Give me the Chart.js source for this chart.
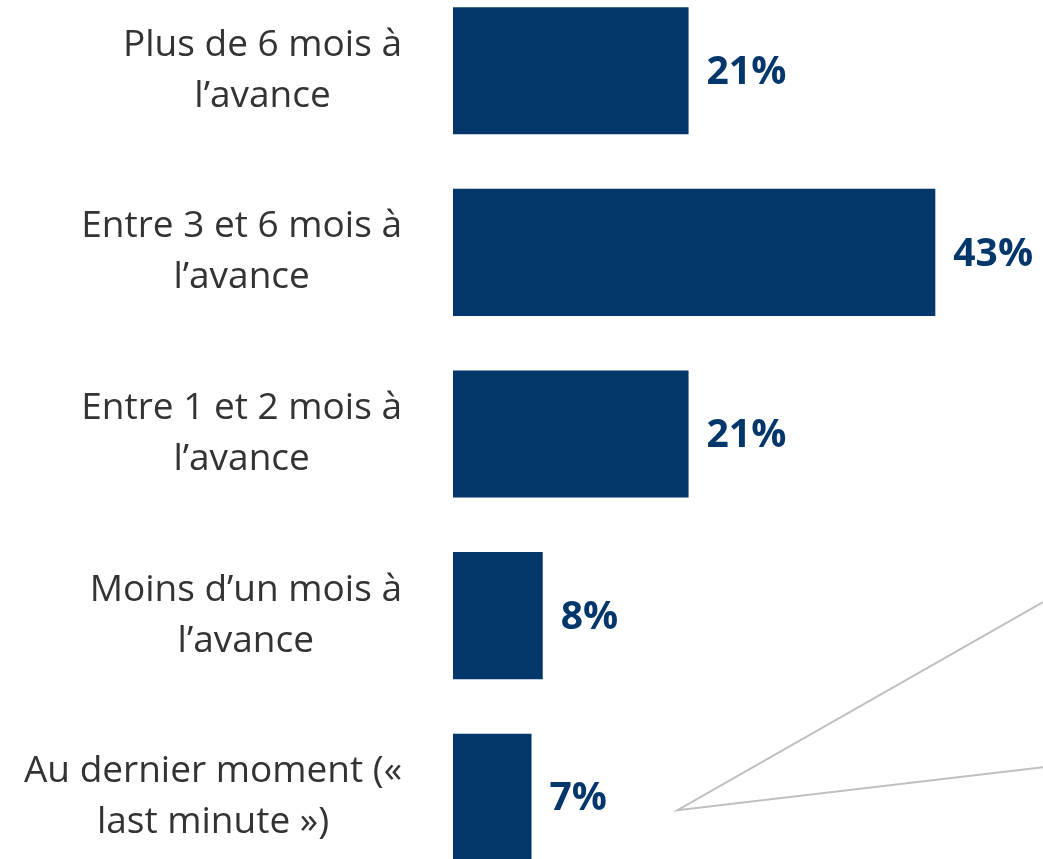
<!DOCTYPE html>
<html lang="fr">
<head>
<meta charset="utf-8">
<script src="https://cdn.jsdelivr.net/npm/chart.js@4/dist/chart.umd.min.js"></script>
<style>
  html, body { margin: 0; padding: 0; background: #ffffff; overflow: hidden; }
  body { width: 1043px; height: 859px; position: relative; }
  #wrap { position: absolute; left: 0; top: -20px; width: 1043px; height: 908px; }
</style>
</head>
<body>
<div id="wrap"><canvas id="chart"></canvas></div>
<script>
// Délai de réservation
const categories = [
  ["Plus de 6 mois à", "l\u2019avance"],
  ["Entre 3 et 6 mois à", "l\u2019avance"],
  ["Entre 1 et 2 mois à", "l\u2019avance"],
  ["Moins d\u2019un mois à", "l\u2019avance"],
  ["Au dernier moment (\u00ab", "last minute \u00bb)"]
];
const shares = [21, 43, 21, 8, 7];
const valueLabels = ["21%", "43%", "21%", "8%", "7%"];

const NAVY = "#03376b";
const TEXT = "#333333";
const LABEL_FONT = "37px 'Open Sans', sans-serif";
const VALUE_FONT = "bold 39px 'Open Sans', sans-serif";
const LABEL_RIGHT = 402;

// Category labels: each block right-aligned, lines centred within the block
const categoryLabels = {
  id: "categoryLabels",
  afterDraw(chart) {
    const ctx = chart.ctx;
    const y = chart.scales.y;
    ctx.save();
    ctx.font = LABEL_FONT;
    ctx.fillStyle = TEXT;
    ctx.textAlign = "center";
    ctx.textBaseline = "middle";
    const lineH = 51;
    categories.forEach((lines, i) => {
      const cy = y.getPixelForValue(i);
      const w = Math.max(...lines.map(l => ctx.measureText(l).width));
      const cx = LABEL_RIGHT - w / 2;
      const y0 = cy - (lines.length - 1) * lineH / 2;
      lines.forEach((l, k) => ctx.fillText(l, cx, y0 + k * lineH));
    });
    ctx.restore();
  }
};

// Value labels at the end of each bar
const valueTags = {
  id: "valueTags",
  afterDatasetsDraw(chart) {
    const ctx = chart.ctx;
    const meta = chart.getDatasetMeta(0);
    ctx.save();
    ctx.font = VALUE_FONT;
    ctx.fillStyle = NAVY;
    ctx.textAlign = "left";
    ctx.textBaseline = "middle";
    meta.data.forEach((bar, i) => {
      ctx.fillText(valueLabels[i], bar.x + 18, bar.y + 2);
    });
    ctx.restore();
  }
};

// Grey callout lines leaving from the "last minute" label
const callout = {
  id: "callout",
  afterDraw(chart) {
    const ctx = chart.ctx;
    const meta = chart.getDatasetMeta(0);
    const bar = meta.data[meta.data.length - 1];
    const ax = bar.x + 146, ay = bar.y + 13;
    const right = chart.width;
    ctx.save();
    ctx.strokeStyle = "#bfbfbf";
    ctx.lineWidth = 2;
    ctx.beginPath();
    ctx.moveTo(right, ay - 208);
    ctx.lineTo(ax, ay);
    ctx.lineTo(right, ay - 43);
    ctx.stroke();
    ctx.restore();
  }
};

new Chart(document.getElementById("chart"), {
  type: "bar",
  data: {
    labels: categories.map(c => c.join(" ")),
    datasets: [{
      data: shares,
      backgroundColor: NAVY,
      borderWidth: 0,
      categoryPercentage: 1,
      barPercentage: 0.70
    }]
  },
  options: {
    indexAxis: "y",
    responsive: true,
    maintainAspectRatio: false,
    animation: false,
    layout: { padding: { left: 453, right: 0, top: 0, bottom: 0 } },
    plugins: { legend: { display: false }, tooltip: { enabled: false } },
    scales: {
      x: {
        min: 0, max: 52.6,
        display: false,
        grid: { display: false }
      },
      y: {
        display: false,
        grid: { display: false }
      }
    }
  },
  plugins: [categoryLabels, valueTags, callout]
});
</script>
</body>
</html>
